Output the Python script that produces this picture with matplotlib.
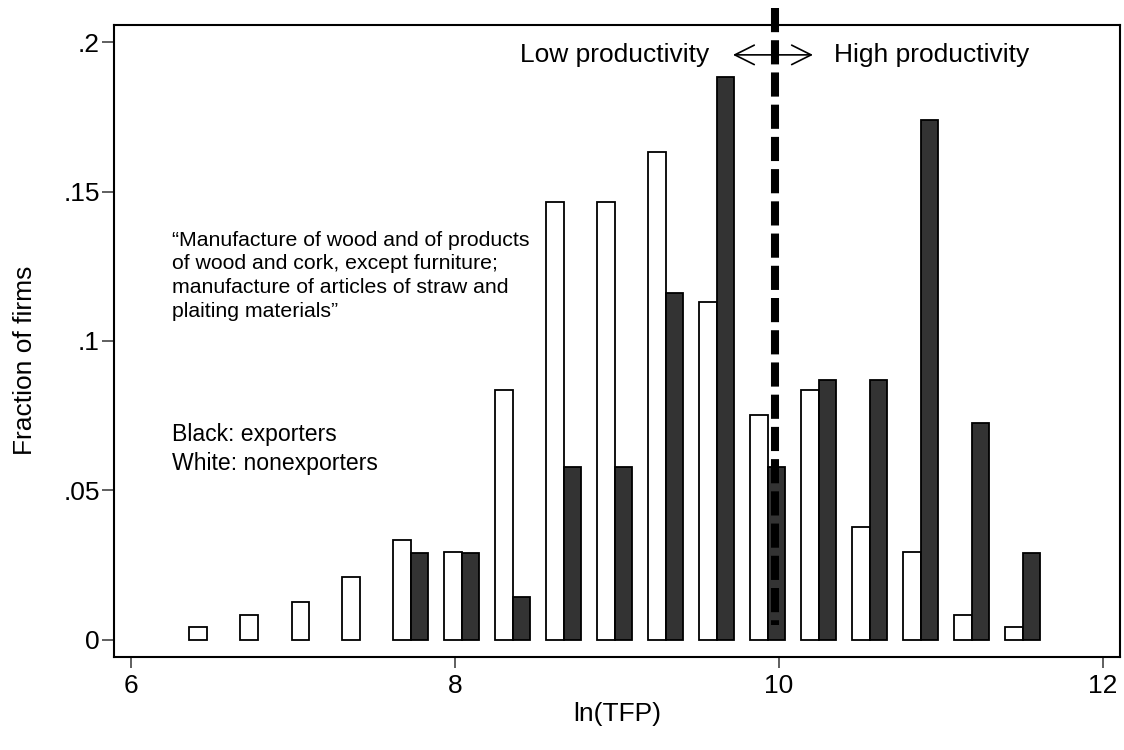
"""
Histogram of ln(TFP) for exporters vs nonexporters (wood products sector)
"""
import matplotlib
matplotlib.use('Agg')  # Non-interactive backend
import matplotlib.pyplot as plt

plt.rcParams['font.family'] = ['Liberation Sans', 'DejaVu Sans']

# Bin centres (ln TFP) and fraction of firms in each bin
bin_centers = [6.469, 6.784, 7.099, 7.413, 7.728, 8.043, 8.358, 8.673, 8.987,
               9.302, 9.617, 9.932, 10.247, 10.561, 10.876, 11.191, 11.506]
nonexporters = [0.0042, 0.0084, 0.0126, 0.0209, 0.0335, 0.0293, 0.0837, 0.1464, 0.1464,
                0.1632, 0.1130, 0.0753, 0.0837, 0.0377, 0.0293, 0.0084, 0.0042]
exporters = [0.0, 0.0, 0.0, 0.0, 0.0290, 0.0290, 0.0145, 0.0580, 0.0580,
             0.1159, 0.1884, 0.0580, 0.0870, 0.0870, 0.1739, 0.0725, 0.0290]

x_ticks = [6, 8, 10, 12]
y_ticks = [0, 0.05, 0.1, 0.15, 0.2]
y_ticklabels = ['0', '.05', '.1', '.15', '.2']

cutoff = 9.975  # productivity threshold (dashed line)

sector_lines = [
    '\u201cManufacture of wood and of products',
    'of wood and cork, except furniture;',
    'manufacture of articles of straw and',
    'plaiting materials\u201d',
]

fig = plt.figure(figsize=(11.24, 7.5), dpi=100)
ax = fig.add_axes([0.1014, 0.124, 0.8950, 0.8427])

bar_w = 0.108
ax.bar(bin_centers, nonexporters, width=-bar_w, align='edge',
       color='white', edgecolor='black', linewidth=1.3, zorder=2)

# empty bins get no bar at all (no flat outline)
exp_x = [c for c, v in zip(bin_centers, exporters) if v > 0]
exp_v = [v for v in exporters if v > 0]
ax.bar(exp_x, exp_v, width=bar_w, align='edge',
       color='#333333', edgecolor='black', linewidth=1.3, zorder=2)

ax.set_xlim(5.895, 12.105)
ax.set_ylim(-0.0057, 0.2057)
ax.set_xticks(x_ticks)
ax.set_xticklabels([str(t) for t in x_ticks])
ax.set_yticks(y_ticks)
ax.set_yticklabels(y_ticklabels)

ax.tick_params(axis='x', length=8, width=1.2, color='#444444', labelsize=19, pad=4.5)
ax.tick_params(axis='y', length=8.6, width=1.2, color='#444444', labelsize=19, pad=1.5)
for s in ax.spines.values():
    s.set_linewidth(1.5)

# Dashed cutoff line, poking out above the frame
ax.plot([cutoff, cutoff], [0.2114, 0.005], color='black', lw=5.8,
        dashes=(3, 1), dash_capstyle='butt', solid_capstyle='butt',
        clip_on=False, zorder=4)

# Double arrow and labels
arrow_y = 0.1957
ax.annotate('', xy=(9.716, arrow_y), xytext=(10.210, arrow_y),
            arrowprops=dict(arrowstyle='<->,head_length=1.4,head_width=0.7',
                            lw=1.2, color='black', mutation_scale=10,
                            shrinkA=0, shrinkB=0), zorder=5)
ax.text(9.568, arrow_y, 'Low productivity', ha='right', va='center', fontsize=19)
ax.text(10.340, arrow_y, 'High productivity', ha='left', va='center', fontsize=19)

# Sector description
line_y = 0.1337
for line in sector_lines:
    ax.text(6.253, line_y, line, ha='left', va='center', fontsize=15.3)
    line_y -= 0.0079

ax.text(6.253, 0.0686, 'Black: exporters', ha='left', va='center', fontsize=16.6)
ax.text(6.253, 0.0589, 'White: nonexporters', ha='left', va='center', fontsize=16.6)

fig.text(25 / 1124, 1 - 360 / 750, 'Fraction of firms', rotation=90,
         ha='center', va='center', fontsize=19)
fig.text(617 / 1124, 1 - 714 / 750, 'ln(TFP)', ha='center', va='center', fontsize=19)

fig.savefig('out.png', dpi=100)
plt.close(fig)
